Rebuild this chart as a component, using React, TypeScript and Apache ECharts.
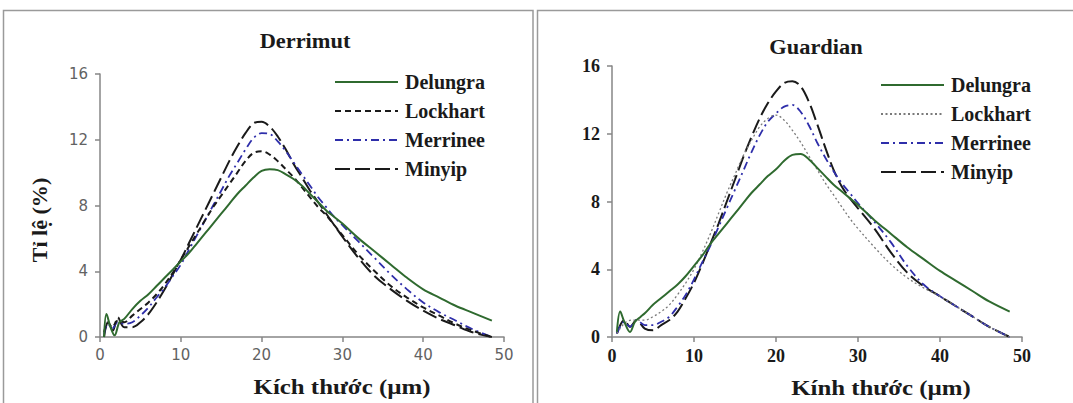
import React, { useEffect, useRef } from "react";
import * as echarts from "echarts";

// ---------- data ----------
const seriesNames = ["Delungra", "Lockhart", "Merrinee", "Minyip"];
const xAxisTicks = [0, 10, 20, 30, 40, 50];
const yAxisTicks = [0, 4, 8, 12, 16];

// Derrimut panel: [size µm, percent]
const derrimutDelungra = [
  [0.5, 0], [0.8, 1.4], [1.3, 0.6], [1.8, 0.1], [2.4, 0.9], [3, 1.1], [4, 1.7], [5, 2.2], [6, 2.6], [7, 3.1],
  [8, 3.6], [9, 4.1], [10, 4.6], [11, 5.1], [12, 5.7], [13, 6.3], [14, 6.9], [15, 7.5], [16, 8.1], [17, 8.7],
  [18, 9.2], [19, 9.7], [20, 10.1], [21, 10.2], [22, 10.15], [23, 9.9], [24, 9.6], [25, 9.2], [26, 8.7],
  [27, 8.2], [28, 7.7], [29, 7.3], [30, 6.9], [32, 6.0], [34, 5.2], [36, 4.4], [38, 3.6], [40, 2.9],
  [42, 2.4], [44, 1.9], [46, 1.5], [48.5, 1.0],
];
const derrimutLockhart = [
  [0.5, 0.3], [1, 0.9], [1.5, 0.6], [2.2, 1.0], [3, 0.9], [4, 1.3], [5, 1.7], [6, 2.1], [7, 2.6], [8, 3.2],
  [9, 3.9], [10, 4.7], [11, 5.5], [12, 6.3], [13, 7.1], [14, 7.9], [15, 8.6], [16, 9.3], [17, 10.0],
  [18, 10.7], [19, 11.2], [20, 11.3], [21, 11.1], [22, 10.7], [23, 10.2], [24, 9.7], [25, 9.1], [26, 8.5],
  [27, 7.9], [28, 7.4], [29, 6.8], [30, 6.2], [32, 5.0], [34, 4.0], [36, 3.1], [38, 2.4], [40, 1.8],
  [42, 1.3], [44, 0.8], [46, 0.4], [48.5, 0],
];
const derrimutMerrinee = [
  [0.5, 0.2], [1, 0.8], [1.5, 0.5], [2.2, 0.9], [3, 0.8], [4, 0.9], [5, 1.3], [6, 1.8], [7, 2.4], [8, 3.0],
  [9, 3.7], [10, 4.4], [11, 5.3], [12, 6.2], [13, 7.1], [14, 8.0], [15, 8.9], [16, 9.8], [17, 10.6],
  [18, 11.4], [19, 12.1], [20, 12.4], [21, 12.35], [22, 11.9], [23, 11.3], [24, 10.6], [25, 9.9], [26, 9.2],
  [27, 8.5], [28, 7.9], [29, 7.3], [30, 6.8], [32, 5.8], [34, 4.8], [36, 3.8], [38, 2.9], [40, 2.1],
  [42, 1.5], [44, 1.0], [46, 0.5], [48.5, 0],
];
const derrimutMinyip = [
  [0.5, 0], [1, 0.9], [1.6, 0.4], [2.2, 1.2], [3, 0.6], [4, 0.6], [5, 0.9], [6, 1.4], [7, 2.1], [8, 2.9],
  [9, 3.8], [10, 4.7], [11, 5.7], [12, 6.7], [13, 7.7], [14, 8.7], [15, 9.7], [16, 10.7], [17, 11.6],
  [18, 12.4], [19, 13.0], [20, 13.1], [21, 12.8], [22, 12.2], [23, 11.4], [24, 10.5], [25, 9.7], [26, 8.9],
  [27, 8.2], [28, 7.5], [29, 6.8], [30, 6.1], [32, 4.8], [34, 3.7], [36, 2.9], [38, 2.2], [40, 1.6],
  [42, 1.1], [44, 0.7], [46, 0.3], [48.5, 0],
];

// Guardian panel
const guardianDelungra = [
  [0.6, 0.3], [1, 1.5], [1.5, 0.9], [2.2, 0.3], [2.8, 0.9], [3.5, 1.2], [4, 1.4], [5, 1.9], [6, 2.3],
  [7, 2.7], [8, 3.1], [9, 3.6], [10, 4.2], [11, 4.8], [12, 5.5], [13, 6.1], [14, 6.7], [15, 7.3], [16, 7.9],
  [17, 8.5], [18, 9.0], [19, 9.5], [20, 9.9], [21, 10.4], [22, 10.75], [23, 10.8], [24, 10.5], [25, 10.0],
  [26, 9.5], [27, 9.0], [28, 8.6], [29, 8.2], [30, 7.8], [32, 6.9], [34, 6.1], [36, 5.3], [38, 4.6],
  [40, 3.9], [42, 3.3], [44, 2.7], [46, 2.1], [48.5, 1.5],
];
const guardianLockhart = [
  [0.6, 0.2], [1.5, 0.8], [2.5, 1.0], [3, 1.0], [4, 1.0], [5, 1.2], [6, 1.5], [7, 1.9], [8, 2.5], [9, 3.2],
  [10, 4.0], [11, 5.0], [12, 6.1], [13, 7.3], [14, 8.5], [15, 9.6], [16, 10.7], [17, 11.6], [18, 12.4],
  [19, 12.9], [20, 13.1], [21, 12.8], [22, 12.2], [23, 11.5], [24, 10.7], [25, 9.9], [26, 9.1], [27, 8.4],
  [28, 7.7], [29, 7.0], [30, 6.4], [32, 5.3], [34, 4.3], [36, 3.5], [38, 2.9], [40, 2.4], [42, 1.8],
  [44, 1.2], [46, 0.6], [48.5, 0],
];
const guardianMerrinee = [
  [0.6, 0.2], [1.5, 0.9], [2.2, 0.6], [3, 1.0], [4, 0.7], [5, 0.7], [6, 0.9], [7, 1.2], [8, 1.8], [9, 2.5],
  [10, 3.4], [11, 4.4], [12, 5.4], [13, 6.5], [14, 7.6], [15, 8.7], [16, 9.8], [17, 10.9], [18, 11.9],
  [19, 12.7], [20, 13.2], [21, 13.6], [22, 13.7], [23, 13.3], [24, 12.5], [25, 11.5], [26, 10.6], [27, 9.8],
  [28, 9.1], [29, 8.5], [30, 7.9], [32, 6.8], [34, 5.6], [36, 4.2], [38, 3.1], [40, 2.4], [42, 1.8],
  [44, 1.2], [46, 0.6], [48.5, 0],
];
const guardianMinyip = [
  [0.6, 0.2], [1.5, 1.0], [2.2, 0.6], [3, 1.0], [4, 0.5], [5, 0.4], [6, 0.7], [7, 1.0], [8, 1.5], [9, 2.3],
  [10, 3.2], [11, 4.3], [12, 5.5], [13, 6.7], [14, 8.0], [15, 9.3], [16, 10.6], [17, 11.8], [18, 12.9],
  [19, 13.8], [20, 14.5], [21, 15.0], [22, 15.1], [23, 14.8], [24, 13.9], [25, 12.6], [26, 11.2], [27, 9.9],
  [28, 8.9], [29, 8.2], [30, 7.6], [32, 6.4], [34, 5.0], [36, 3.8], [38, 3.0], [40, 2.4], [42, 1.8],
  [44, 1.2], [46, 0.6], [48.5, 0],
];

const derrimutData = [derrimutDelungra, derrimutLockhart, derrimutMerrinee, derrimutMinyip];
const guardianData = [guardianDelungra, guardianLockhart, guardianMerrinee, guardianMinyip];

// ---------- styles ----------
const SERIF = "'Liberation Serif', 'Times New Roman', serif";
const SANS = "'DejaVu Sans', Verdana, sans-serif";
const GREEN = "#2f6a2f";
const BLUE = "#2e2eaa";
const BLACK = "#1a1a1a";

const leftLines = [
  { color: GREEN, width: 2, type: "solid" },
  { color: BLACK, width: 2, type: [6, 4] },
  { color: BLUE, width: 1.8, type: [8, 4, 2, 4] },
  { color: BLACK, width: 2, type: [15, 5] },
];
const rightLines = [
  { color: GREEN, width: 2, type: "solid" },
  { color: "#7a7a7a", width: 1.3, type: [2, 2.5] },
  { color: BLUE, width: 1.8, type: [8, 4, 2, 4] },
  { color: BLACK, width: 2, type: [15, 5] },
];

type PanelCfg = {
  title: string;
  titleX: number;
  titleY: number;
  xName: string;
  xNameX: number;
  xNameY: number;
  yName?: string;
  grid: { left: number; right: number; top: number; bottom: number };
  legendLeft: number;
  legendTop: number;
  border: { x: number; y: number; width: number; height: number };
  tickFont: any;
  data: number[][][];
  lines: any[];
};

function buildOption(cfg: PanelCfg): any {
  const graphic: any[] = [
    {
      type: "rect",
      shape: cfg.border,
      style: { fill: "none", stroke: "#9a9a9a", lineWidth: 1.5 },
      silent: true,
    },
    {
      type: "text",
      x: cfg.titleX,
      y: cfg.titleY,
      scaleX: 1.12,
      style: {
        text: cfg.title,
        font: `bold 20px ${SERIF}`,
        fill: BLACK,
        textAlign: "center",
        textVerticalAlign: "middle",
      },
    },
    {
      type: "text",
      x: cfg.xNameX,
      y: cfg.xNameY,
      scaleX: 1.13,
      style: {
        text: cfg.xName,
        font: `bold 22px ${SERIF}`,
        fill: BLACK,
        textAlign: "center",
        textVerticalAlign: "middle",
      },
    },
  ];
  if (cfg.yName) {
    graphic.push({
      type: "text",
      x: 40,
      y: 220,
      rotation: Math.PI / 2,
      scaleX: 1.05,
      style: {
        text: cfg.yName,
        font: `bold 21px ${SERIF}`,
        fill: BLACK,
        textAlign: "center",
        textVerticalAlign: "middle",
      },
    });
  }
  return {
    animation: false,
    backgroundColor: "#ffffff",
    grid: { ...cfg.grid, containLabel: false },
    legend: {
      orient: "vertical",
      left: cfg.legendLeft,
      top: cfg.legendTop,
      padding: 0,
      itemWidth: 63,
      itemHeight: 14,
      itemGap: 9,
      data: seriesNames,
      itemStyle: { opacity: 0, borderWidth: 0 },
      textStyle: {
        fontFamily: SERIF,
        fontWeight: "bold",
        fontSize: 20,
        lineHeight: 20,
        color: BLACK,
        padding: [0, 0, 0, 2],
      },
    },
    xAxis: {
      type: "value",
      min: xAxisTicks[0],
      max: xAxisTicks[xAxisTicks.length - 1],
      interval: xAxisTicks[1] - xAxisTicks[0],
      splitLine: { show: false },
      axisLine: { show: true, onZero: false, lineStyle: { color: "#868686", width: 1.5 } },
      axisTick: { show: true, length: 5, lineStyle: { color: "#868686", width: 1.5 } },
      axisLabel: { margin: 10, ...cfg.tickFont },
    },
    yAxis: {
      type: "value",
      min: yAxisTicks[0],
      max: yAxisTicks[yAxisTicks.length - 1],
      interval: yAxisTicks[1] - yAxisTicks[0],
      splitLine: { show: false },
      axisLine: { show: true, lineStyle: { color: "#868686", width: 1.5 } },
      axisTick: { show: true, length: 5, lineStyle: { color: "#868686", width: 1.5 } },
      axisLabel: { margin: 12, ...cfg.tickFont },
    },
    graphic,
    series: seriesNames.map((name, i) => ({
      name,
      type: "line",
      data: cfg.data[i],
      showSymbol: false,
      symbol: "none",
      smooth: 0.35,
      lineStyle: { ...cfg.lines[i] },
      itemStyle: { color: cfg.lines[i].color },
      z: 10 - i,
    })),
  };
}

const leftCfg: PanelCfg = {
  title: "Derrimut",
  titleX: 305,
  titleY: 41,
  xName: "Kích thước (µm)",
  xNameX: 342,
  xNameY: 387,
  yName: "Tỉ lệ (%)",
  grid: { left: 100, right: 32, top: 74, bottom: 66 },
  legendLeft: 334,
  legendTop: 72,
  border: { x: 3.5, y: 10.5, width: 529.5, height: 420 },
  tickFont: { fontFamily: SANS, fontSize: 15, color: "#626262" },
  data: derrimutData,
  lines: leftLines,
};

const rightCfg: PanelCfg = {
  title: "Guardian",
  titleX: 280,
  titleY: 47,
  xName: "Kính thước (µm)",
  xNameX: 345,
  xNameY: 388,
  grid: { left: 76, right: 51, top: 66, bottom: 66 },
  legendLeft: 344,
  legendTop: 75,
  border: { x: 1.5, y: 10.5, width: 540, height: 420 },
  tickFont: { fontFamily: SERIF, fontSize: 18, fontWeight: "bold", color: BLACK },
  data: guardianData,
  lines: rightLines,
};

function Panel({ cfg, left, width }: { cfg: PanelCfg; left: number; width: number }) {
  const ref = useRef<HTMLDivElement>(null);
  useEffect(() => {
    if (!ref.current) return;
    const chart = echarts.init(ref.current, undefined, { renderer: "svg" });
    chart.setOption(buildOption(cfg));
    return () => chart.dispose();
  }, [cfg]);
  return (
    <div
      ref={ref}
      style={{ position: "absolute", left, top: 0, width, height: 403 }}
    />
  );
}

export default function App() {
  return (
    <div
      style={{
        position: "fixed",
        left: 0,
        top: 0,
        width: 1073,
        height: 403,
        background: "#ffffff",
        overflow: "hidden",
      }}
    >
      <Panel cfg={leftCfg} left={0} width={536} />
      <Panel cfg={rightCfg} left={536} width={537} />
    </div>
  );
}
